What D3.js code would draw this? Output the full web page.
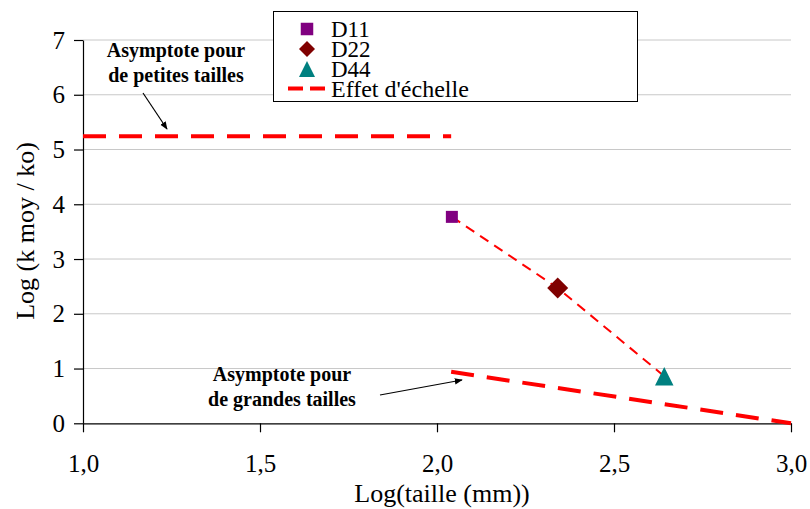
<!DOCTYPE html>
<html><head><meta charset="utf-8">
<script src="https://cdn.jsdelivr.net/npm/d3@7"></script>
<style>body{margin:0;background:#fff}svg{display:block}text{font-family:"Liberation Serif","Times New Roman",serif}</style>
</head><body><svg id="c" width="810" height="509"></svg>
<script>
const seriesNames = ["D11","D22","D44"];
const seriesX = [2.042, 2.341, 2.642];
const seriesY = [3.77, 2.47, 0.86];
const seriesColors = ["#800080","#800000","#008080"];
const seriesShapes = ["square","diamond","triangle"];
const smallAsymX = [1.0, 2.04];
const smallAsymY = [5.24, 5.24];
const largeAsymX = [2.04, 3.0];
const largeAsymY = [0.94, 0.0];
const xTicks = [1.0, 1.5, 2.0, 2.5, 3.0];
const yTicks = [0,1,2,3,4,5,6,7];

const svg = d3.select("#c");
const x = d3.scaleLinear().domain([1,3]).range([83,791]);
const y = d3.scaleLinear().domain([0,7]).range([423.3,40]);
const FF = "Liberation Serif, Times New Roman, serif";

// gridlines
svg.append("g").selectAll("line").data(yTicks.filter(d=>d>0)).join("line")
  .attr("x1",x(1)).attr("x2",x(3)).attr("y1",d=>y(d)).attr("y2",d=>y(d))
  .attr("stroke","#c8c8c8").attr("stroke-width",1);

// axes
const fmt = d => d3.format(".1f")(d).replace(".",",");
const xa = svg.append("g").attr("transform",`translate(0,${y(0)})`)
  .call(d3.axisBottom(x).tickValues(xTicks).tickFormat(fmt).tickSize(9).tickSizeOuter(0));
const ya = svg.append("g").attr("transform",`translate(${x(1)},0)`)
  .call(d3.axisLeft(y).tickValues(yTicks).tickFormat(d3.format("d")).tickSize(9).tickSizeOuter(0).tickPadding(9));
[xa,ya].forEach(a=>{
  a.attr("font-family",FF);
  a.selectAll("text").style("font-family",FF).attr("font-size",25).attr("fill","#000");
  a.selectAll("line,path").attr("stroke","#000").attr("stroke-width",1.2);
});
xa.selectAll("text").attr("y",49).attr("dy",0);

// axis titles
svg.append("text").attr("x",442).attr("y",502).attr("text-anchor","middle")
  .attr("font-size",26).text("Log(taille (mm))");
svg.append("text").attr("transform","translate(34,231) rotate(-90)").attr("text-anchor","middle")
  .attr("font-size",26).text("Log (k moy / ko)");

const line = d3.line().x(d=>x(d[0])).y(d=>y(d[1]));
// asymptotes
svg.append("path").attr("d",line(d3.zip(smallAsymX,smallAsymY))).attr("fill","none")
  .attr("stroke","#ff0000").attr("stroke-width",4).attr("stroke-dasharray","23,13");
svg.append("path").attr("d",line(d3.zip(largeAsymX,largeAsymY))).attr("fill","none")
  .attr("stroke","#ff0000").attr("stroke-width",4).attr("stroke-dasharray","23,13");
// scale effect line
svg.append("path").attr("d",line(d3.zip(seriesX,seriesY))).attr("fill","none")
  .attr("stroke","#ff0000").attr("stroke-width",2).attr("stroke-dasharray","10,7");

function marker(g, shape, cx, cy, color, s){
  const h = s/2;
  if(shape==="square") g.append("rect").attr("x",cx-h).attr("y",cy-h).attr("width",s).attr("height",s).attr("fill",color);
  else if(shape==="diamond") g.append("path").attr("d",`M${cx},${cy-h}L${cx+h},${cy}L${cx},${cy+h}L${cx-h},${cy}Z`).attr("fill",color);
  else g.append("path").attr("d",`M${cx},${cy-h}L${cx+h},${cy+h}L${cx-h},${cy+h}Z`).attr("fill",color);
}
const mSize = [12, 21, 18.5];
const mg = svg.append("g");
seriesNames.forEach((n,i)=>marker(mg, seriesShapes[i], x(seriesX[i]), y(seriesY[i]), seriesColors[i], mSize[i]));

// annotations
svg.append("defs").append("marker").attr("id","ah").attr("viewBox","0 0 10 10").attr("refX",9).attr("refY",5)
  .attr("markerWidth",8).attr("markerHeight",8).attr("orient","auto").attr("markerUnits","userSpaceOnUse")
  .append("path").attr("d","M0,1L10,5L0,9Z").attr("fill","#000");
function annot(lines, cx, y0){
  lines.forEach((t,i)=>svg.append("text").attr("x",cx).attr("y",y0+i*25).attr("text-anchor","middle")
    .attr("font-size",20).attr("font-weight","bold").text(t));
}
annot(["Asymptote pour","de petites tailles"],176,57);
annot(["Asymptote pour","de grandes tailles"],282,381);
svg.append("line").attr("x1",143).attr("y1",93).attr("x2",167).attr("y2",129).attr("stroke","#000").attr("stroke-width",1.2).attr("marker-end","url(#ah)");
svg.append("line").attr("x1",380).attr("y1",395).attr("x2",462).attr("y2",380).attr("stroke","#000").attr("stroke-width",1.2).attr("marker-end","url(#ah)");

// legend
const lg = svg.append("g");
lg.append("rect").attr("x",273.5).attr("y",11.5).attr("width",364).attr("height",90).attr("fill","#fff").attr("stroke","#000").attr("stroke-width",1);
const ly = [29,49,69];
const lSize = [12.5, 16, 16];
seriesNames.forEach((n,i)=>{
  marker(lg, seriesShapes[i], 307, ly[i], seriesColors[i], lSize[i]);
  lg.append("text").attr("x",331).attr("y",ly[i]+7.5).attr("font-size",23).text(n);
});
lg.append("line").attr("x1",288).attr("x2",326).attr("y1",88.5).attr("y2",88.5).attr("stroke","#ff0000").attr("stroke-width",4).attr("stroke-dasharray","15,7");
lg.append("text").attr("x",331).attr("y",97).attr("font-size",24).text("Effet d'échelle");
</script></body></html>
